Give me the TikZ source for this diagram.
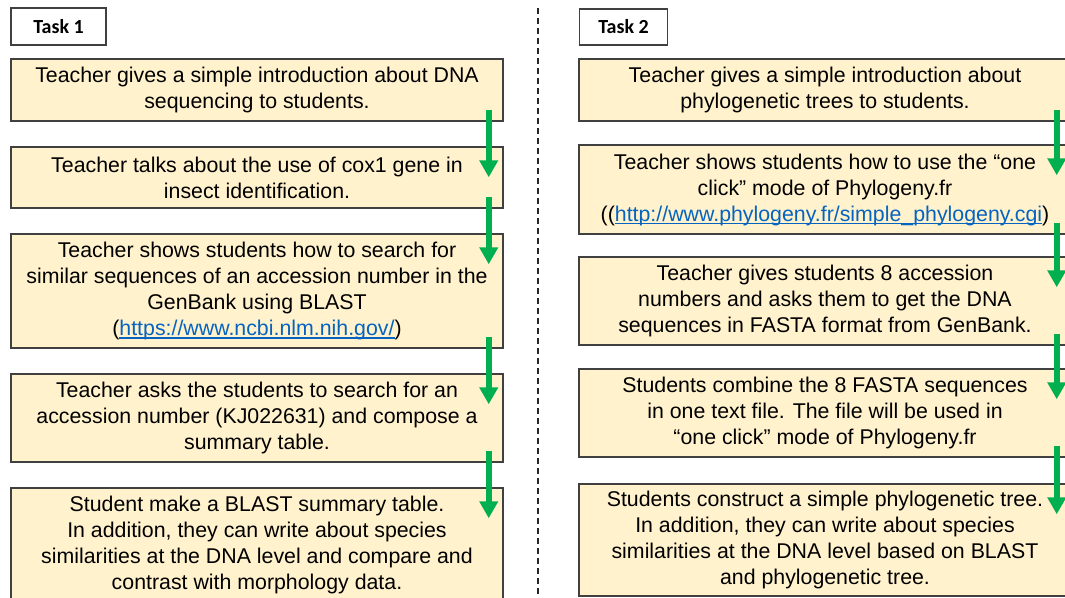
\documentclass[tikz,border=0pt]{standalone}
\usepackage{fontspec}
\setmainfont{Liberation Sans}
\newfontfamily\taskfont{Carlito}
\usetikzlibrary{arrows.meta,calc}
\definecolor{boxfill}{HTML}{FFF2CC}
\definecolor{boxline}{HTML}{404040}
\definecolor{arrowgreen}{HTML}{00B050}
\definecolor{linkblue}{HTML}{0563C1}
\newcommand{\weblink}[1]{{\color{linkblue}\setbox0\hbox{#1}\rlap{\rule[-2.3pt]{\wd0}{0.9pt}}\box0}}
\begin{document}
\begin{tikzpicture}[x=0.75pt,y=-0.75pt,
  stepbox/.style={draw=boxline, line width=1.1pt, fill=boxfill, minimum width=369pt,
    inner sep=0pt, align=center, font=\fontsize{16}{19.5}\selectfont},
  taskbox/.style={draw=boxline, line width=1.1pt, fill=white, inner sep=0pt,
    font=\taskfont\bfseries\fontsize{15}{17}\selectfont},
  flowarrow/.style={draw=arrowgreen, line width=4.5pt,
    -{Triangle[width=13.5pt,length=12.75pt]}},
  divider/.style={draw=black!85, line width=1.1pt, dash pattern=on 4.5pt off 3pt}]
\useasboundingbox (0,0) rectangle (1065,598);
\clip (0,0) rectangle (1065,598);

% divider
\coordinate (dtop) at (538,8);
\coordinate (dbot) at (538,600);
\draw[divider] (dtop) -- (dbot);

% task labels
\node[taskbox, minimum width=71.25pt, minimum height=27.75pt] (T1) at (58.5,26.5) {Task 1};
\node[taskbox, minimum width=66pt, minimum height=27pt] (T2) at (623.5,27) {Task 2};

% left column
\node[stepbox, minimum height=46.5pt] (L1) at (257,90)
  {Teacher gives a simple introduction about DNA\\sequencing to students.};
\node[stepbox, minimum height=45.75pt] (L2) at (257,177.5)
  {Teacher talks about the use of cox1 gene in\\insect identification.};
\node[stepbox, minimum height=85.5pt] (L3) at (257,291)
  {Teacher shows students how to search for\\similar sequences of an accession number in the\\GenBank using BLAST\\(\weblink{https://www.ncbi.nlm.nih.gov/})};
\node[stepbox, minimum height=66pt] (L4) at (257,418)
  {Teacher asks the students to search for an\\accession number (KJ022631) and compose a\\summary table.};
\node[stepbox, minimum height=85.5pt] (L5) at (257,545)
  {Student make a BLAST summary table.\\In addition, they can write about species\\similarities at the DNA level and compare and\\contrast with morphology data.};

% right column
\node[stepbox, minimum height=46.5pt] (R1) at (825,90)
  {Teacher gives a simple introduction about\\phylogenetic trees to students.};
\node[stepbox, minimum height=66.75pt] (R2) at (825,189.5)
  {Teacher shows students how to use the “one\\click” mode of Phylogeny.fr\\((\weblink{http://www.phylogeny.fr/simple\_phylogeny.cgi})};
\node[stepbox, minimum height=66pt] (R3) at (825,301)
  {Teacher gives students 8 accession\\numbers and asks them to get the DNA\\sequences in FASTA format from GenBank.};
\node[stepbox, minimum height=66pt] (R4) at (825,413)
  {Students combine the 8 FASTA sequences\\in one text file. The file will be used in\\“one click” mode of Phylogeny.fr};
\node[stepbox, minimum height=84pt] (R5) at (825,540)
  {Students construct a simple phylogenetic tree.\\In addition, they can write about species\\similarities at the DNA level based on BLAST\\and phylogenetic tree.};

% arrows
\foreach \a/\b in {L1/L2, L2/L3, L3/L4, L4/L5, R1/R2, R2/R3, R3/R4, R4/R5}
  \draw[flowarrow] ($(\a.south east)+(-15,-12)$) -- ($(\b.north east)+(-15,31)$);
\end{tikzpicture}
\end{document}
